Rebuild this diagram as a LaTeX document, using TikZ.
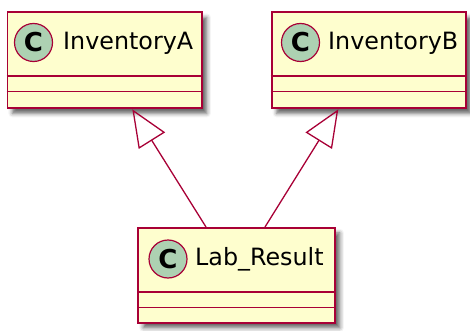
\documentclass[tikz,border=0pt]{standalone}
\usepackage{fontspec}
\setmainfont{DejaVu Sans}
\usetikzlibrary{arrows.meta,shadows.blur}

\definecolor{umlborder}{HTML}{A80036}
\definecolor{umlfill}{HTML}{FEFECE}
\definecolor{umlspot}{HTML}{ADD1B2}

\tikzset{
  classbox/.style={draw=umlborder, fill=umlfill, line width=1.8pt,
    rectangle, inner sep=0pt, anchor=north west,
    blur shadow={shadow xshift=5pt, shadow yshift=-5pt,
      shadow blur radius=4pt, shadow opacity=60}},
  divider/.style={draw=umlborder, line width=1.6pt},
  spot/.style={circle, draw=umlborder, fill=umlspot, line width=1.2pt,
    minimum size=38pt, inner sep=0pt,
    font=\fontsize{26}{26}\selectfont\bfseries},
  classname/.style={anchor=west, inner sep=0pt,
    font=\fontsize{23.8}{24}\selectfont},
  extends/.style={draw=umlborder, line width=1.3pt,
    -{Triangle[open, length=37pt, width=31pt, line width=1.3pt]}}
}

\begin{document}
\begin{tikzpicture}[x=1pt, y=-1pt]
  \useasboundingbox (0,0) rectangle (470,331);

  % class InventoryA
  \node[classbox, minimum width=194.5pt, minimum height=96pt] (A) at (6.5,11.5) {};
  \draw[divider] (6.5,76) -- (201,76);
  \draw[divider] (6.5,91.5) -- (201,91.5);
  \node[spot] (Aspot) at (33.5,42.5) {C};
  \node[classname] (Aname) at (63,43) {InventoryA};

  % class InventoryB
  \node[classbox, minimum width=194.5pt, minimum height=96pt] (B) at (270.7,11.5) {};
  \draw[divider] (270.7,76) -- (465.2,76);
  \draw[divider] (270.7,91.5) -- (465.2,91.5);
  \node[spot] (Bspot) at (300.5,42.5) {C};
  \node[classname] (Bname) at (328,43) {InventoryB};

  % class Lab_Result
  \node[classbox, minimum width=196.7pt, minimum height=95pt] (L) at (137.3,227) {};
  \draw[divider] (137.3,292) -- (334,292);
  \draw[divider] (137.3,307.5) -- (334,307.5);
  \node[spot] (Lspot) at (168,259) {C};
  \node[classname] (Lname) at (195,259.5) {Lab\_Result};

  % generalisation arrows
  \coordinate (LtoA) at ([xshift=68.7pt]L.north west);
  \coordinate (LtoB) at ([xshift=127.7pt]L.north west);
  \coordinate (Atip) at ([xshift=125.8pt]A.south west);
  \coordinate (Btip) at ([xshift=67.6pt]B.south west);
  \draw[extends] (LtoA) -- (Atip);
  \draw[extends] (LtoB) -- (Btip);
\end{tikzpicture}
\end{document}
